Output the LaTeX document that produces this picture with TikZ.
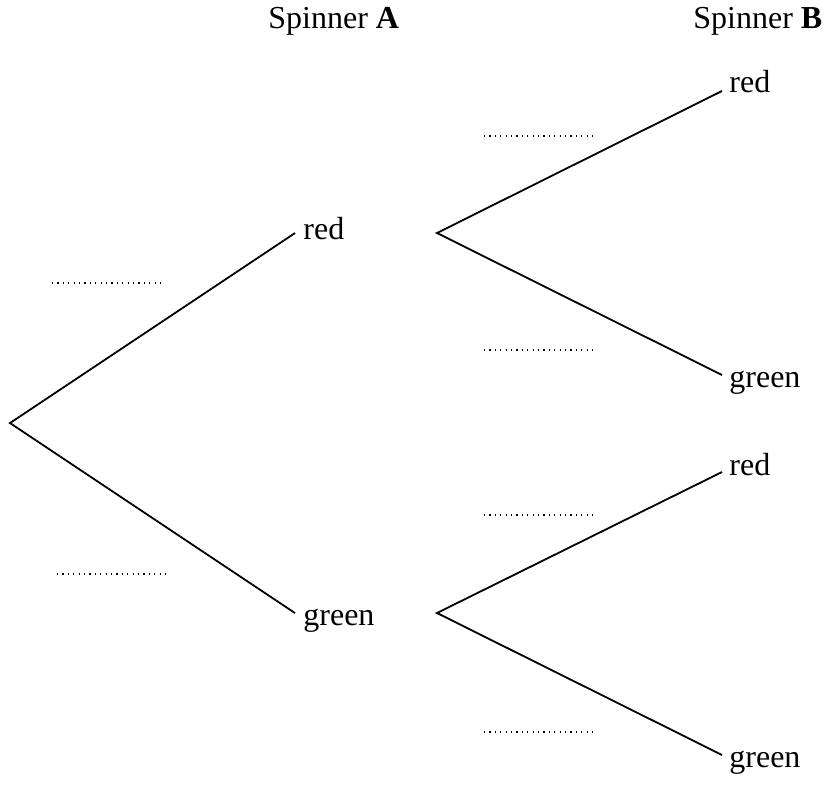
\documentclass[tikz,border=0pt]{standalone}
\usepackage{fontspec}
\setmainfont{Liberation Serif}
\begin{document}
\begin{tikzpicture}[x=0.5pt,y=-0.5pt,
  branch/.style={line width=0.9pt},
  lbl/.style={anchor=base west,inner sep=0pt,font=\fontsize{16pt}{19pt}\selectfont},
  blank/.style={line width=0.55pt,dash pattern=on 0.55pt off 2.15pt}]
\useasboundingbox (0,0) rectangle (825,787);
% headings
\node[lbl] (hA) at (268,28) {Spinner \textbf{A}};
\node[lbl] (hB) at (693,28) {Spinner \textbf{B}};
% tree points
\coordinate (root) at (10,423);
\coordinate (eAr) at (295,233);
\coordinate (eAg) at (295,613);
\coordinate (sAr) at (437,233);
\coordinate (sAg) at (437,613);
\coordinate (eBrr) at (722,91);
\coordinate (eBrg) at (722,375);
\coordinate (eBgr) at (722,472);
\coordinate (eBgg) at (722,755);
% labels
\node[lbl] (Ar) at (303,239) {red};
\node[lbl] (Ag) at (303,625) {green};
\node[lbl] (Brr) at (729,92) {red};
\node[lbl] (Brg) at (729,387) {green};
\node[lbl] (Bgr) at (729,475) {red};
\node[lbl] (Bgg) at (729,767) {green};
% branches
\draw[branch] (eAr) -- (root) -- (eAg);
\draw[branch] (eBrr) -- (sAr) -- (eBrg);
\draw[branch] (eBgr) -- (sAg) -- (eBgg);
% answer blanks
\draw[blank] (52,283) -- (161,283);
\draw[blank] (57,574) -- (167,574);
\draw[blank] (484,136) -- (593,136);
\draw[blank] (484,350) -- (593,350);
\draw[blank] (484,515) -- (593,515);
\draw[blank] (484,732) -- (593,732);
\end{tikzpicture}
\end{document}
